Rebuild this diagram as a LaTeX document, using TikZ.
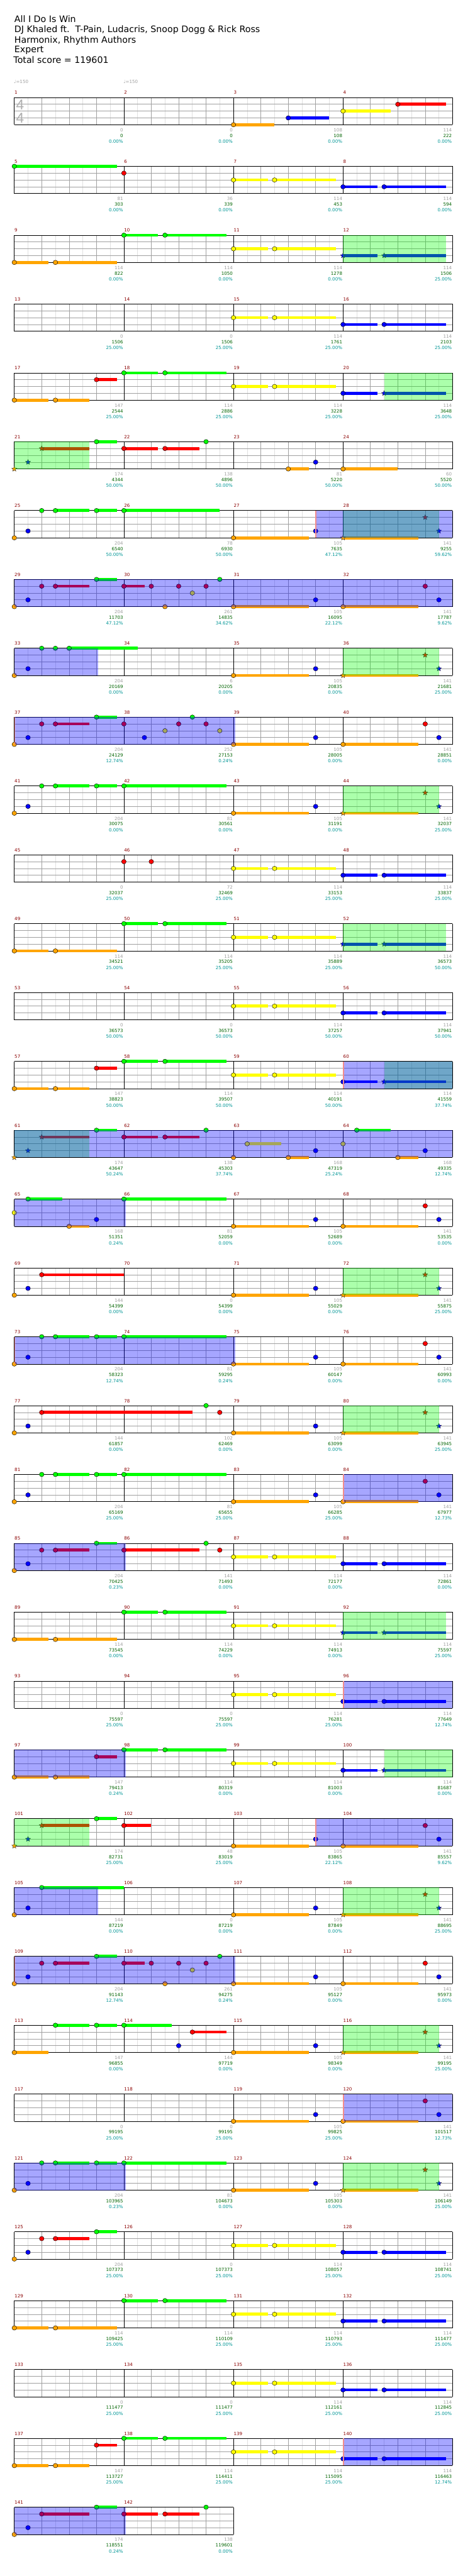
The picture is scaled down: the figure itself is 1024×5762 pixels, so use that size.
\documentclass[tikz,border=0pt]{standalone}
\usepackage{fontspec}
\setmainfont{DejaVu Sans}
\newfontfamily\djv{DejaVu Sans}
\newfontfamily\lib{Liberation Sans}
\usetikzlibrary{shapes.geometric}
\definecolor{l0}{RGB}{0,255,0}
\definecolor{l1}{RGB}{255,0,0}
\definecolor{l2}{RGB}{255,255,0}
\definecolor{l3}{RGB}{0,0,255}
\definecolor{l4}{RGB}{255,165,0}
\definecolor{mred}{RGB}{139,0,0}
\definecolor{sgray}{RGB}{160,160,160}
\definecolor{sgreen}{RGB}{0,100,0}
\definecolor{scyan}{RGB}{0,150,150}
\definecolor{glight}{RGB}{224,224,224}
\definecolor{gmid}{RGB}{160,160,160}
\definecolor{actred}{RGB}{242,140,140}
\definecolor{tsgray}{RGB}{175,175,175}
\tikzset{
  gl/.style={draw=glight, line width=0.8pt},
  gb/.style={draw=gmid, line width=0.9pt},
  gk/.style={draw=black, line width=1pt},
  smallfont/.style={font=\fontsize{10pt}{12pt}\selectfont},
  mnum/.style={smallfont, anchor=base west, inner sep=0pt, text=mred},
  sg/.style={smallfont, anchor=base east, inner sep=0pt, text=sgray},
  sgr/.style={smallfont, anchor=base east, inner sep=0pt, text=sgreen},
  sc/.style={smallfont, anchor=base east, inner sep=0pt, text=scyan},
  titletext/.style={font=\fontsize{20pt}{24pt}\selectfont, anchor=base west, inner sep=0pt},
  notedot/.style={line width=0.6pt, draw=black},
  starnote/.style={star, star points=5, star point ratio=2.2, minimum size=12pt, inner sep=0pt, draw=black!85, line width=0.5pt},
  bover/.style={fill=l3, fill opacity=0.35},
  gover/.style={fill=l0, fill opacity=0.33},
}
\newcounter{chn}
\newcommand\chRow[1]{\pgfmathsetmacro\chT{218+(#1-1)*154}}
\newcommand\chGrid[1]{%
  \pgfmathsetmacro\chW{#1*245}%
  \pgfmathtruncatemacro\chE{#1*8}%
  \fill[white] (32,\chT) rectangle ({32+\chW},{\chT+61});
  \foreach \j in {1,3,...,\chE} {\draw[gl] ({32+\j*30.625},\chT) -- ++(0,61);}
  \foreach \j in {2,4,...,\chE} {\draw[gb] ({32+\j*30.625},\chT) -- ++(0,61);}
  \foreach \l in {1,2,3} {\draw[gb] (32,{\chT+\l*15.25}) -- ++(\chW,0);}
  \foreach \m in {0,...,#1} {\draw[gk] ({32+\m*245},\chT) -- ++(0,61);}
  \draw[gk] (32,\chT) -- ++(\chW,0);
  \draw[gk] (32,{\chT+61}) -- ++(\chW,0);
}
\newcommand\chN[2]{\draw[notedot, fill=l#1] ({32+#2*30.625},{\chT+#1*15.25}) ellipse [x radius=5.2pt, y radius=5pt];}
\newcommand\chBar[3]{\fill[l#1] ({32+#2*30.625},{\chT+#1*15.25-3.3}) rectangle ({32+#3*30.625},{\chT+#1*15.25+3.3});}
\newcommand\chS[3]{\chBar{#1}{#2}{#3}\chN{#1}{#2}}
\newcommand\chX[2]{\stepcounter{chn}\node[starnote, fill=l#1] (st\thechn) at ({32+#2*30.625},{\chT+#1*15.25}) {};}
\newcommand\chXS[3]{\chBar{#1}{#2}{#3}\chX{#1}{#2}}
\newcommand\chB[2]{\fill[bover] ({32+#1*30.625},\chT) rectangle ({32+#2*30.625},{\chT+61});}
\newcommand\chG[2]{\fill[gover] ({32+#1*30.625},\chT) rectangle ({32+#2*30.625},{\chT+61});}
\newcommand\chA[1]{\draw[actred, line width=2.6pt] ({32+#1*30.625+1},\chT) -- ++(0,61);}
\newcommand\chM[5]{%
  \node[mnum] (m#2) at ({32+#1*245+0.5},{\chT-7}) {#2};
  \node[sg] (g#2) at ({32+(#1+1)*245-1.5},{\chT+76.5}) {#3};
  \node[sgr] (s#2) at ({32+(#1+1)*245-1.5},{\chT+89}) {#4};
  \node[sc] (p#2) at ({32+(#1+1)*245-1.5},{\chT+102}) {#5\%};
}
\begin{document}
\begin{tikzpicture}[x=1pt,y=-1pt]
\useasboundingbox (0,0) rectangle (1024,5762);
\fill[white] (0,0) rectangle (1024,5762);
\node[titletext] (t1) at (32,50) {All I Do Is Win};
\node[titletext] (t2) at (32,73) {DJ Khaled ft.\ \ T-Pain,\ Ludacris,\ Snoop Dogg \& Rick Ross};
\node[titletext] (t3) at (32,96) {Harmonix,\ Rhythm Authors};
\node[titletext] (t4) at (32,118) {Expert};
\node[titletext] (t5) at (30,141) {Total score = 119601};
\node[anchor=base west, inner sep=0pt, text=sgray, font=\djv\fontsize{10pt}{12pt}\selectfont] (tp1) at (31,186) {♩=150};
\node[anchor=base west, inner sep=0pt, text=sgray, font=\djv\fontsize{10pt}{12pt}\selectfont] (tp2) at (276,186) {♩=150};
% row 1
\chRow{1}\chGrid{4}
\node[text=tsgray, inner sep=0pt, font=\lib\fontsize{32pt}{32pt}\selectfont] (ts1) at (45,234.5) {4};
\node[text=tsgray, inner sep=0pt, font=\lib\fontsize{32pt}{32pt}\selectfont] (ts2) at (45,263.5) {4};
\chS{4}{16}{19}\chS{3}{20}{23}\chS{2}{24}{27.5}\chS{1}{28}{31.5}
\chM{0}{1}{0}{0}{0.00}\chM{1}{2}{0}{0}{0.00}\chM{2}{3}{108}{108}{0.00}\chM{3}{4}{114}{222}{0.00}
% row 2
\chRow{2}\chGrid{4}
\chS{0}{0}{7.5}\chN{1}{8}\chS{2}{16}{18.5}\chS{2}{19}{23.5}\chS{3}{24}{26.5}\chS{3}{27}{31.5}
\chM{0}{5}{81}{303}{0.00}\chM{1}{6}{36}{339}{0.00}\chM{2}{7}{114}{453}{0.00}\chM{3}{8}{114}{594}{0.00}
% row 3
\chRow{3}\chGrid{4}
\chS{4}{0}{2.5}\chS{4}{3}{7.5}\chS{0}{8}{10.5}\chS{0}{11}{15.5}\chS{2}{16}{18.5}\chS{2}{19}{23.5}\chXS{3}{24}{26.5}\chXS{3}{27}{31.5}\chG{24}{31.5}
\chM{0}{9}{114}{822}{0.00}\chM{1}{10}{114}{1050}{0.00}\chM{2}{11}{114}{1278}{0.00}\chM{3}{12}{114}{1506}{25.00}
% row 4
\chRow{4}\chGrid{4}
\chS{2}{16}{18.5}\chS{2}{19}{23.5}\chS{3}{24}{26.5}\chS{3}{27}{31.5}
\chM{0}{13}{0}{1506}{25.00}\chM{1}{14}{0}{1506}{25.00}\chM{2}{15}{114}{1761}{25.00}\chM{3}{16}{114}{2103}{25.00}
% row 5
\chRow{5}\chGrid{4}
\chS{4}{0}{2.5}\chS{4}{3}{5.5}\chS{1}{6}{7.5}\chS{0}{8}{10.5}\chS{0}{11}{15.5}\chS{2}{16}{18.5}\chS{2}{19}{23.5}\chS{3}{24}{26.5}\chXS{3}{27}{31.5}\chG{27}{32}
\chM{0}{17}{147}{2544}{25.00}\chM{1}{18}{114}{2886}{25.00}\chM{2}{19}{114}{3228}{25.00}\chM{3}{20}{114}{3648}{25.00}
% row 6
\chRow{6}\chGrid{4}
\chX{4}{0}\chX{3}{1}\chXS{1}{2}{5.5}\chS{0}{6}{7.5}\chS{1}{8}{10.5}\chS{1}{11}{13.5}\chN{0}{14}\chS{4}{20}{21.5}\chN{3}{22}\chS{4}{24}{28}\chG{0}{5.5}
\chM{0}{21}{174}{4344}{50.00}\chM{1}{22}{138}{4896}{50.00}\chM{2}{23}{81}{5220}{50.00}\chM{3}{24}{60}{5520}{50.00}
% row 7
\chRow{7}\chGrid{4}
\chN{4}{0}\chN{3}{1}\chN{0}{2}\chS{0}{3}{5.5}\chS{0}{6}{7.5}\chS{0}{8}{15}\chS{4}{16}{21.5}\chN{3}{22}\chXS{4}{24}{29.5}\chX{1}{30}\chX{3}{31}\chG{24}{31}\chB{22}{32}\chA{22}
\chM{0}{25}{204}{6540}{50.00}\chM{1}{26}{78}{6930}{50.00}\chM{2}{27}{105}{7635}{47.12}\chM{3}{28}{141}{9255}{59.62}
% row 8
\chRow{8}\chGrid{4}
\chN{4}{0}\chN{3}{1}\chN{1}{2}\chS{1}{3}{5.5}\chS{0}{6}{7.5}\chS{1}{8}{9.5}\chN{1}{10}\chN{4}{11}\chN{1}{12}\chN{2}{13}\chN{1}{14}\chN{0}{15}\chS{4}{16}{21.5}\chN{3}{22}\chS{4}{24}{29.5}\chN{1}{30}\chN{3}{31}\chB{0}{32}
\chM{0}{29}{204}{11703}{47.12}\chM{1}{30}{261}{14835}{34.62}\chM{2}{31}{105}{16095}{22.12}\chM{3}{32}{141}{17787}{9.62}
% row 9
\chRow{9}\chGrid{4}
\chN{4}{0}\chN{3}{1}\chN{0}{2}\chN{0}{3}\chS{0}{4}{9}\chS{4}{16}{21.5}\chN{3}{22}\chXS{4}{24}{29.5}\chX{1}{30}\chX{3}{31}\chG{24}{31}\chB{0}{6.1}
\chM{0}{33}{204}{20169}{0.00}\chM{1}{34}{6}{20205}{0.00}\chM{2}{35}{105}{20835}{0.00}\chM{3}{36}{141}{21681}{25.00}
% row 10
\chRow{10}\chGrid{4}
\chN{4}{0}\chN{3}{1}\chN{1}{2}\chS{1}{3}{5.5}\chS{0}{6}{7.5}\chN{1}{8}\chN{3}{9.5}\chN{2}{11}\chN{1}{12}\chN{0}{13}\chN{1}{14}\chN{2}{15}\chS{4}{16}{21.5}\chN{3}{22}\chS{4}{24}{29.5}\chN{1}{30}\chN{3}{31}\chB{0}{16.14}\chA{0}
\chM{0}{37}{204}{24129}{12.74}\chM{1}{38}{252}{27153}{0.24}\chM{2}{39}{105}{28005}{0.00}\chM{3}{40}{141}{28851}{0.00}
% row 11
\chRow{11}\chGrid{4}
\chN{4}{0}\chN{3}{1}\chN{0}{2}\chS{0}{3}{5.5}\chS{0}{6}{7.5}\chS{0}{8}{15.5}\chS{4}{16}{21.5}\chN{3}{22}\chXS{4}{24}{29.5}\chX{1}{30}\chX{3}{31}\chG{24}{31}
\chM{0}{41}{204}{30075}{0.00}\chM{1}{42}{81}{30561}{0.00}\chM{2}{43}{105}{31191}{0.00}\chM{3}{44}{141}{32037}{25.00}
% row 12
\chRow{12}\chGrid{4}
\chN{1}{8}\chN{1}{10}\chS{2}{16}{18.5}\chS{2}{19}{23.5}\chS{3}{24}{26.5}\chS{3}{27}{31.5}
\chM{0}{45}{0}{32037}{25.00}\chM{1}{46}{72}{32469}{25.00}\chM{2}{47}{114}{33153}{25.00}\chM{3}{48}{114}{33837}{25.00}
% row 13
\chRow{13}\chGrid{4}
\chS{4}{0}{2.5}\chS{4}{3}{7.5}\chS{0}{8}{10.5}\chS{0}{11}{15.5}\chS{2}{16}{18.5}\chS{2}{19}{23.5}\chXS{3}{24}{26.5}\chXS{3}{27}{31.5}\chG{24}{31.5}
\chM{0}{49}{114}{34521}{25.00}\chM{1}{50}{114}{35205}{25.00}\chM{2}{51}{114}{35889}{25.00}\chM{3}{52}{114}{36573}{50.00}
% row 14
\chRow{14}\chGrid{4}
\chS{2}{16}{18.5}\chS{2}{19}{23.5}\chS{3}{24}{26.5}\chS{3}{27}{31.5}
\chM{0}{53}{0}{36573}{50.00}\chM{1}{54}{0}{36573}{50.00}\chM{2}{55}{114}{37257}{50.00}\chM{3}{56}{114}{37941}{50.00}
% row 15
\chRow{15}\chGrid{4}
\chS{4}{0}{2.5}\chS{4}{3}{5.5}\chS{1}{6}{7.5}\chS{0}{8}{10.5}\chS{0}{11}{15.5}\chS{2}{16}{18.5}\chS{2}{19}{23.5}\chS{3}{24}{26.5}\chXS{3}{27}{31.5}\chG{27}{32}\chB{24}{32}\chA{24}
\chM{0}{57}{147}{38823}{50.00}\chM{1}{58}{114}{39507}{50.00}\chM{2}{59}{114}{40191}{50.00}\chM{3}{60}{114}{41559}{37.74}
% row 16
\chRow{16}\chGrid{4}
\chX{4}{0}\chX{3}{1}\chXS{1}{2}{5.5}\chS{0}{6}{7.5}\chS{1}{8}{10.5}\chS{1}{11}{13.5}\chN{0}{14}\chN{4}{16}\chS{2}{17}{19.5}\chS{4}{20}{21.5}\chN{3}{22}\chN{2}{24}\chS{0}{25}{27.5}\chS{4}{28}{29.5}\chN{3}{30}\chG{0}{5.5}\chB{0}{32}
\chM{0}{61}{174}{43647}{50.24}\chM{1}{62}{138}{45303}{37.74}\chM{2}{63}{168}{47319}{25.24}\chM{3}{64}{168}{49335}{12.74}
% row 17
\chRow{17}\chGrid{4}
\chN{2}{0}\chS{0}{1}{3.5}\chS{4}{4}{5.5}\chN{3}{6}\chS{0}{8}{15.5}\chS{4}{16}{21.5}\chN{3}{22}\chS{4}{24}{29.5}\chN{1}{30}\chN{3}{31}\chB{0}{8.13}
\chM{0}{65}{168}{51351}{0.24}\chM{1}{66}{81}{52059}{0.00}\chM{2}{67}{105}{52689}{0.00}\chM{3}{68}{141}{53535}{0.00}
% row 18
\chRow{18}\chGrid{4}
\chN{4}{0}\chN{3}{1}\chS{1}{2}{8}\chS{4}{16}{21.5}\chN{3}{22}\chXS{4}{24}{29.5}\chX{1}{30}\chX{3}{31}\chG{24}{31}
\chM{0}{69}{144}{54399}{0.00}\chM{1}{70}{0}{54399}{0.00}\chM{2}{71}{105}{55029}{0.00}\chM{3}{72}{141}{55875}{25.00}
% row 19
\chRow{19}\chGrid{4}
\chN{4}{0}\chN{3}{1}\chN{0}{2}\chS{0}{3}{5.5}\chS{0}{6}{7.5}\chS{0}{8}{15.5}\chS{4}{16}{21.5}\chN{3}{22}\chS{4}{24}{29.5}\chN{1}{30}\chN{3}{31}\chB{0}{16.14}\chA{0}
\chM{0}{73}{204}{58323}{12.74}\chM{1}{74}{81}{59295}{0.24}\chM{2}{75}{105}{60147}{0.00}\chM{3}{76}{141}{60993}{0.00}
% row 20
\chRow{20}\chGrid{4}
\chN{4}{0}\chN{3}{1}\chS{1}{2}{13}\chN{0}{14}\chN{1}{15}\chS{4}{16}{21.5}\chN{3}{22}\chXS{4}{24}{29.5}\chX{1}{30}\chX{3}{31}\chG{24}{31}
\chM{0}{77}{144}{61857}{0.00}\chM{1}{78}{102}{62469}{0.00}\chM{2}{79}{105}{63099}{0.00}\chM{3}{80}{141}{63945}{25.00}
% row 21
\chRow{21}\chGrid{4}
\chN{4}{0}\chN{3}{1}\chN{0}{2}\chS{0}{3}{5.5}\chS{0}{6}{7.5}\chS{0}{8}{15.5}\chS{4}{16}{21.5}\chN{3}{22}\chS{4}{24}{29.5}\chN{1}{30}\chN{3}{31}\chB{24}{32}\chA{24}
\chM{0}{81}{204}{65169}{25.00}\chM{1}{82}{81}{65655}{25.00}\chM{2}{83}{105}{66285}{25.00}\chM{3}{84}{141}{67977}{12.73}
% row 22
\chRow{22}\chGrid{4}
\chN{4}{0}\chN{3}{1}\chN{1}{2}\chS{1}{3}{5.5}\chS{0}{6}{7.5}\chS{1}{8}{13.5}\chN{0}{14}\chN{1}{15}\chS{2}{16}{18.5}\chS{2}{19}{23.5}\chS{3}{24}{26.5}\chS{3}{27}{31.5}\chB{0}{8.13}
\chM{0}{85}{204}{70425}{0.23}\chM{1}{86}{141}{71493}{0.00}\chM{2}{87}{114}{72177}{0.00}\chM{3}{88}{114}{72861}{0.00}
% row 23
\chRow{23}\chGrid{4}
\chS{4}{0}{2.5}\chS{4}{3}{7.5}\chS{0}{8}{10.5}\chS{0}{11}{15.5}\chS{2}{16}{18.5}\chS{2}{19}{23.5}\chXS{3}{24}{26.5}\chXS{3}{27}{31.5}\chG{24}{31.5}
\chM{0}{89}{114}{73545}{0.00}\chM{1}{90}{114}{74229}{0.00}\chM{2}{91}{114}{74913}{0.00}\chM{3}{92}{114}{75597}{25.00}
% row 24
\chRow{24}\chGrid{4}
\chS{2}{16}{18.5}\chS{2}{19}{23.5}\chS{3}{24}{26.5}\chS{3}{27}{31.5}\chB{24}{32}\chA{24}
\chM{0}{93}{0}{75597}{25.00}\chM{1}{94}{0}{75597}{25.00}\chM{2}{95}{114}{76281}{25.00}\chM{3}{96}{114}{77649}{12.74}
% row 25
\chRow{25}\chGrid{4}
\chS{4}{0}{2.5}\chS{4}{3}{5.5}\chS{1}{6}{7.5}\chS{0}{8}{10.5}\chS{0}{11}{15.5}\chS{2}{16}{18.5}\chS{2}{19}{23.5}\chS{3}{24}{26.5}\chXS{3}{27}{31.5}\chG{27}{32}\chB{0}{8.13}
\chM{0}{97}{147}{79413}{0.24}\chM{1}{98}{114}{80319}{0.00}\chM{2}{99}{114}{81003}{0.00}\chM{3}{100}{114}{81687}{0.00}
% row 26
\chRow{26}\chGrid{4}
\chX{4}{0}\chX{3}{1}\chXS{1}{2}{5.5}\chS{0}{6}{7.5}\chS{1}{8}{10}\chS{4}{16}{21.5}\chN{3}{22}\chS{4}{24}{29.5}\chN{1}{30}\chN{3}{31}\chG{0}{5.5}\chB{22}{32}\chA{22}
\chM{0}{101}{174}{82731}{25.00}\chM{1}{102}{48}{83019}{25.00}\chM{2}{103}{105}{83865}{22.12}\chM{3}{104}{141}{85557}{9.62}
% row 27
\chRow{27}\chGrid{4}
\chN{4}{0}\chN{3}{1}\chS{0}{2}{8}\chS{4}{16}{21.5}\chN{3}{22}\chXS{4}{24}{29.5}\chX{1}{30}\chX{3}{31}\chG{24}{31}\chB{0}{6.1}
\chM{0}{105}{144}{87219}{0.00}\chM{1}{106}{0}{87219}{0.00}\chM{2}{107}{105}{87849}{0.00}\chM{3}{108}{141}{88695}{25.00}
% row 28
\chRow{28}\chGrid{4}
\chN{4}{0}\chN{3}{1}\chN{1}{2}\chS{1}{3}{5.5}\chS{0}{6}{7.5}\chS{1}{8}{9.5}\chN{1}{10}\chN{4}{11}\chN{1}{12}\chN{2}{13}\chN{1}{14}\chN{0}{15}\chS{4}{16}{21.5}\chN{3}{22}\chS{4}{24}{29.5}\chN{1}{30}\chN{3}{31}\chB{0}{16.14}\chA{0}
\chM{0}{109}{204}{91143}{12.74}\chM{1}{110}{261}{94275}{0.24}\chM{2}{111}{105}{95127}{0.00}\chM{3}{112}{141}{95973}{0.00}
% row 29
\chRow{29}\chGrid{4}
\chS{4}{0}{2.5}\chS{0}{3}{5.5}\chS{0}{6}{7.5}\chS{0}{8}{11.5}\chN{3}{12}\chS{1}{13}{15.5}\chS{4}{16}{21.5}\chN{3}{22}\chXS{4}{24}{29.5}\chX{1}{30}\chX{3}{31}\chG{24}{31}
\chM{0}{113}{147}{96855}{0.00}\chM{1}{114}{144}{97719}{0.00}\chM{2}{115}{105}{98349}{0.00}\chM{3}{116}{141}{99195}{25.00}
% row 30
\chRow{30}\chGrid{4}
\chS{4}{16}{21.5}\chN{3}{22}\chS{4}{24}{29.5}\chN{1}{30}\chN{3}{31}\chB{24}{32}\chA{24}
\chM{0}{117}{0}{99195}{25.00}\chM{1}{118}{0}{99195}{25.00}\chM{2}{119}{105}{99825}{25.00}\chM{3}{120}{141}{101517}{12.73}
% row 31
\chRow{31}\chGrid{4}
\chN{4}{0}\chN{3}{1}\chN{0}{2}\chS{0}{3}{5.5}\chS{0}{6}{7.5}\chS{0}{8}{15.5}\chS{4}{16}{21.5}\chN{3}{22}\chXS{4}{24}{29.5}\chX{1}{30}\chX{3}{31}\chG{24}{31}\chB{0}{8.13}
\chM{0}{121}{204}{103965}{0.23}\chM{1}{122}{81}{104673}{0.00}\chM{2}{123}{105}{105303}{0.00}\chM{3}{124}{141}{106149}{25.00}
% row 32
\chRow{32}\chGrid{4}
\chN{4}{0}\chN{3}{1}\chN{1}{2}\chS{1}{3}{5.5}\chS{0}{6}{7.5}\chS{2}{16}{18.5}\chS{2}{19}{23.5}\chS{3}{24}{26.5}\chS{3}{27}{31.5}
\chM{0}{125}{204}{107373}{25.00}\chM{1}{126}{0}{107373}{25.00}\chM{2}{127}{114}{108057}{25.00}\chM{3}{128}{114}{108741}{25.00}
% row 33
\chRow{33}\chGrid{4}
\chS{4}{0}{2.5}\chS{4}{3}{7.5}\chS{0}{8}{10.5}\chS{0}{11}{15.5}\chS{2}{16}{18.5}\chS{2}{19}{23.5}\chS{3}{24}{26.5}\chS{3}{27}{31.5}
\chM{0}{129}{114}{109425}{25.00}\chM{1}{130}{114}{110109}{25.00}\chM{2}{131}{114}{110793}{25.00}\chM{3}{132}{114}{111477}{25.00}
% row 34
\chRow{34}\chGrid{4}
\chS{2}{16}{18.5}\chS{2}{19}{23.5}\chS{3}{24}{26.5}\chS{3}{27}{31.5}
\chM{0}{133}{0}{111477}{25.00}\chM{1}{134}{0}{111477}{25.00}\chM{2}{135}{114}{112161}{25.00}\chM{3}{136}{114}{112845}{25.00}
% row 35
\chRow{35}\chGrid{4}
\chS{4}{0}{2.5}\chS{4}{3}{5.5}\chS{1}{6}{7.5}\chS{0}{8}{10.5}\chS{0}{11}{15.5}\chS{2}{16}{18.5}\chS{2}{19}{23.5}\chS{3}{24}{26.5}\chS{3}{27}{31.5}\chB{24}{32}\chA{24}
\chM{0}{137}{147}{113727}{25.00}\chM{1}{138}{114}{114411}{25.00}\chM{2}{139}{114}{115095}{25.00}\chM{3}{140}{114}{116463}{12.74}
% row 36
\chRow{36}\chGrid{2}
\chN{4}{0}\chN{3}{1}\chS{1}{2}{5.5}\chS{0}{6}{7.5}\chS{1}{8}{10.5}\chS{1}{11}{13.5}\chN{0}{14}\chB{0}{8.13}
\chM{0}{141}{174}{118551}{0.24}\chM{1}{142}{138}{119601}{0.00}
\end{tikzpicture}
\end{document}
